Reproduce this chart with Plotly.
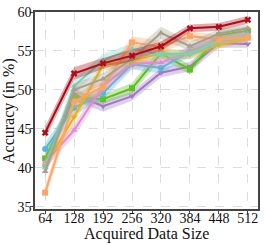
import plotly.graph_objects as go

sizes = [64, 128, 192, 256, 320, 384, 448, 512]
x_ticks = [64, 128, 192, 256, 320, 384, 448, 512]
y_ticks = [35, 40, 45, 50, 55, 60]

purple = [40.1, 49.4, 47.9, 49.2, 52.2, 53.0, 56.0, 55.9]
green = [41.2, 49.0, 48.8, 50.2, 54.7, 52.6, 57.0, 57.6]
blue = [42.4, 47.7, 49.6, 53.3, 52.8, 54.9, 56.2, 56.8]
pink = [40.7, 44.8, 50.5, 53.4, 53.5, 55.0, 56.3, 57.2]
gold = [40.3, 46.5, 53.2, 53.7, 54.7, 54.5, 55.8, 56.6]
teal = [40.0, 50.5, 53.8, 55.3, 54.5, 54.6, 56.3, 57.0]
orange = [36.8, 48.5, 50.4, 56.1, 55.5, 56.9, 56.5, 56.7]
tan = [39.5, 50.0, 51.4, 54.0, 57.3, 55.6, 57.2, 57.9]
red = [44.5, 52.1, 53.4, 54.4, 55.6, 57.9, 58.1, 59.0]

band_purple = [0.8, 0.8, 0.7, 0.6, 0.6, 0.6, 0.6, 0.5]
band_green = [0.8, 0.7, 0.6, 0.7, 0.7, 0.6, 0.6, 0.5]
band_blue = [0.8, 0.9, 0.8, 0.7, 0.7, 0.6, 0.6, 0.5]
band_pink = [0.8, 0.8, 0.8, 0.7, 0.6, 0.6, 0.6, 0.5]
band_gold = [0.8, 0.8, 0.7, 0.6, 0.6, 0.6, 0.5, 0.5]
band_teal = [0.8, 0.9, 0.8, 0.7, 0.6, 0.6, 0.5, 0.5]
band_orange = [0.9, 0.9, 0.8, 0.8, 0.8, 0.6, 0.6, 0.5]
band_tan = [0.8, 0.8, 0.8, 0.8, 0.8, 0.6, 0.6, 0.5]
band_red = [0.8, 0.8, 0.7, 0.7, 0.6, 0.5, 0.5, 0.5]

x_title = "Acquired Data Size"
y_title = "Accuracy (in %)"

series = [
    ("purple", purple, band_purple, (160, 120, 195), "triangle-down"),
    ("green", green, band_green, (96, 190, 40), "square"),
    ("blue", blue, band_blue, (90, 180, 215), "circle"),
    ("pink", pink, band_pink, (228, 140, 208), "triangle-up"),
    ("gold", gold, band_gold, (228, 176, 30), "triangle-down"),
    ("teal", teal, band_teal, (125, 208, 192), "triangle-up"),
    ("orange", orange, band_orange, (252, 165, 105), "square"),
    ("tan", tan, band_tan, (168, 160, 140), "triangle-up"),
    ("red", red, band_red, (170, 15, 25), "x"),
]

fig = go.Figure()
for name, vals, band, (r, g, b), sym in series:
    upper = [v + d for v, d in zip(vals, band)]
    lower = [v - d for v, d in zip(vals, band)]
    fig.add_trace(go.Scatter(x=sizes, y=upper, mode="lines", line=dict(width=0),
                             showlegend=False, hoverinfo="skip"))
    fig.add_trace(go.Scatter(x=sizes, y=lower, mode="lines", line=dict(width=0),
                             fill="tonexty", fillcolor=f"rgba({r},{g},{b},0.35)",
                             showlegend=False, hoverinfo="skip"))
    fig.add_trace(go.Scatter(x=sizes, y=vals, mode="lines+markers", name=name,
                             line=dict(color=f"rgb({r},{g},{b})", width=2),
                             marker=dict(symbol=sym, size=6,
                                         color=f"rgb({r},{g},{b})"),
                             showlegend=False))

font = "Liberation Serif, Times New Roman, serif"
fig.update_layout(
    width=266, height=245,
    margin=dict(l=35, r=8, t=12, b=36, autoexpand=False),
    paper_bgcolor="white", plot_bgcolor="white",
    font=dict(family=font, size=14, color="#111"),
    showlegend=False,
    annotations=[
        dict(text=x_title, xref="paper", yref="paper", x=0.5, y=-0.127,
             xanchor="center", yanchor="middle", showarrow=False,
             font=dict(size=16)),
        dict(text=y_title, xref="paper", yref="paper", x=-0.119, y=0.5,
             xanchor="center", yanchor="middle", showarrow=False,
             textangle=-90, font=dict(size=16)),
    ],
)
fig.update_xaxes(
    range=[41.6, 534.4], tickvals=x_ticks, ticktext=[str(t) for t in x_ticks],
    automargin=False, ticklabelstandoff=-8,
    showgrid=True, gridcolor="#dddddd", griddash="dash", gridwidth=1,
    showline=True, linecolor="#444444", linewidth=1.5, mirror=True,
    ticks="outside", ticklen=3, tickcolor="#444444", zeroline=False,
)
fig.update_yaxes(
    range=[34.7, 60], tickvals=y_ticks,
    automargin=False, ticklabelstandoff=-4,
    showgrid=True, gridcolor="#dddddd", griddash="dash", gridwidth=1,
    showline=True, linecolor="#444444", linewidth=1.5, mirror=True,
    ticks="outside", ticklen=3, tickcolor="#444444", zeroline=False,
)

fig.write_html("out.html", config={"displayModeBar": False},
               post_script="document.body.style.margin='0px';")
